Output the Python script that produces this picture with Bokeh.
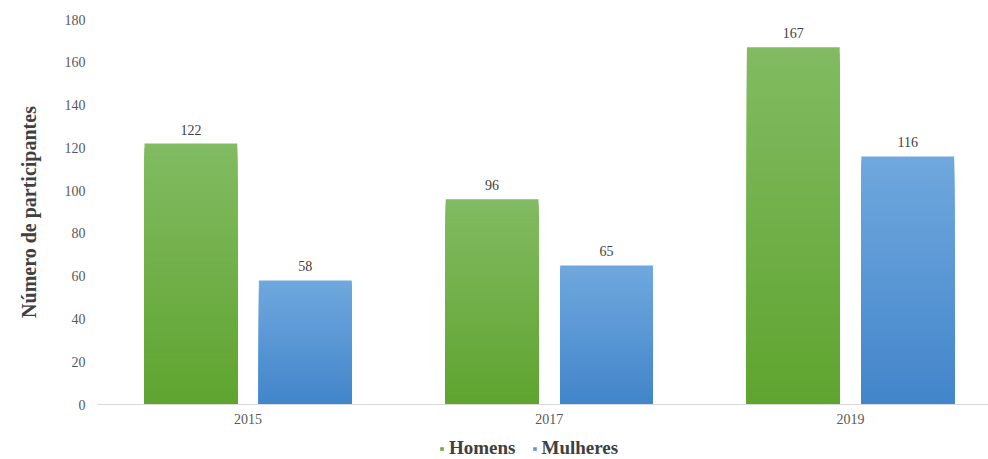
import numpy as np
from bokeh.plotting import figure
from bokeh.layouts import column
from bokeh.models import Range1d, FixedTicker, ColumnDataSource, Legend, LegendItem
from bokeh.embed import file_html
from bokeh.resources import INLINE

years = ["2015", "2017", "2019"]
homens = [122, 96, 167]
mulheres = [58, 65, 116]
series_names = ["Homens", "Mulheres"]
y_ticks = [0, 20, 40, 60, 80, 100, 120, 140, 160, 180]

FONT = "Liberation Serif"
GREEN = "#6bad45"
BLUE = "#5b9bd5"

p = figure(width=988, height=429, output_backend="svg", toolbar_location=None,
           x_range=Range1d(-0.5, 2.458), y_range=Range1d(0, 180),
           min_border_left=97, min_border_right=0, min_border_top=19, min_border_bottom=25)
p.outline_line_color = None
p.background_fill_color = "white"
p.border_fill_color = "white"

def hex2rgb(h):
    h = h.lstrip("#")
    return np.array([int(h[i:i + 2], 16) for i in (0, 2, 4)], dtype=float)

def gradient_bars(xs, vals, top_col, bot_col, width, n=60):
    t = hex2rgb(top_col)
    b = hex2rgb(bot_col)
    L, R, B, T, C = [], [], [], [], []
    for k in reversed(range(n)):
        f = (k + 0.5) / n
        c = b + (t - b) * f
        col = "#%02x%02x%02x" % tuple(int(round(q)) for q in c)
        for x, v in zip(xs, vals):
            L.append(x - width / 2)
            R.append(x + width / 2)
            B.append(0)
            T.append(v * (k + 1) / n)
            C.append(col)
    src = ColumnDataSource(dict(left=L, right=R, bottom=B, top=T, color=C))
    return p.quad(left="left", right="right", bottom="bottom", top="top", source=src,
                  fill_color="color", line_color=None)

idx = np.arange(len(years))
off = 0.19
bw = 0.308
gradient_bars(idx - off, homens, "#82bb62", "#5fa42f", bw)
gradient_bars(idx + off, mulheres, "#70a8de", "#4285ca", bw)

# value labels
lab_src_h = ColumnDataSource(dict(x=list(idx - off), y=homens, t=[str(v) for v in homens]))
lab_src_m = ColumnDataSource(dict(x=list(idx + off), y=mulheres, t=[str(v) for v in mulheres]))
for s in (lab_src_h, lab_src_m):
    p.text(x="x", y="y", text="t", source=s, text_align="center", text_baseline="bottom",
           y_offset=-9, text_font_size="14px", text_color="#404040",
           text_font={"value": FONT})

# axes
p.xaxis.ticker = FixedTicker(ticks=list(idx))
p.xaxis.major_label_overrides = {int(i): y for i, y in zip(idx, years)}
p.xaxis.major_tick_line_color = None
p.xaxis.minor_tick_line_color = None
p.xaxis.axis_line_color = "#d9d9d9"
p.xaxis.axis_line_width = 1
p.xaxis.major_label_text_font = FONT
p.xaxis.major_label_text_font_size = "14px"
p.xaxis.major_label_text_color = "#595959"
p.xaxis.major_label_standoff = 3

p.yaxis.ticker = FixedTicker(ticks=y_ticks)
p.yaxis.major_tick_line_color = None
p.yaxis.minor_tick_line_color = None
p.yaxis.axis_line_color = None
p.yaxis.major_label_text_font = FONT
p.yaxis.major_label_text_font_size = "14px"
p.yaxis.major_label_text_color = "#595959"
p.yaxis.major_label_standoff = 6
p.yaxis.axis_label = "Número de participantes"
p.yaxis.axis_label_text_font = FONT
p.yaxis.axis_label_text_font_size = "20px"
p.yaxis.axis_label_text_font_style = "bold"
p.yaxis.axis_label_text_color = "#404040"
p.yaxis.axis_label_standoff = 22

p.xgrid.grid_line_color = None
p.ygrid.grid_line_color = None

# legend figure below
lf = figure(width=988, height=30, output_backend="svg", toolbar_location=None,
            x_range=Range1d(0, 1), y_range=Range1d(0, 1), min_border=0)
lf.axis.visible = False
lf.grid.visible = False
lf.outline_line_color = None
lg = lf.scatter(x=[-10], y=[-10], marker="square", size=10, fill_color=GREEN, line_color=None)
lb = lf.scatter(x=[-10], y=[-10], marker="square", size=10, fill_color=BLUE, line_color=None)
legend = Legend(items=[LegendItem(label=series_names[0], renderers=[lg]),
                       LegendItem(label=series_names[1], renderers=[lb])],
                orientation="horizontal", location=(340, 0),
                label_text_font=FONT, label_text_font_size="19px",
                label_text_font_style="bold", label_text_color="#404040",
                glyph_width=9, glyph_height=9, label_standoff=3, spacing=14,
                padding=0, margin=0, border_line_color=None, background_fill_alpha=0)
lf.add_layout(legend, "center")

open("out.html", "w").write(file_html(column(p, lf, spacing=0), INLINE))
